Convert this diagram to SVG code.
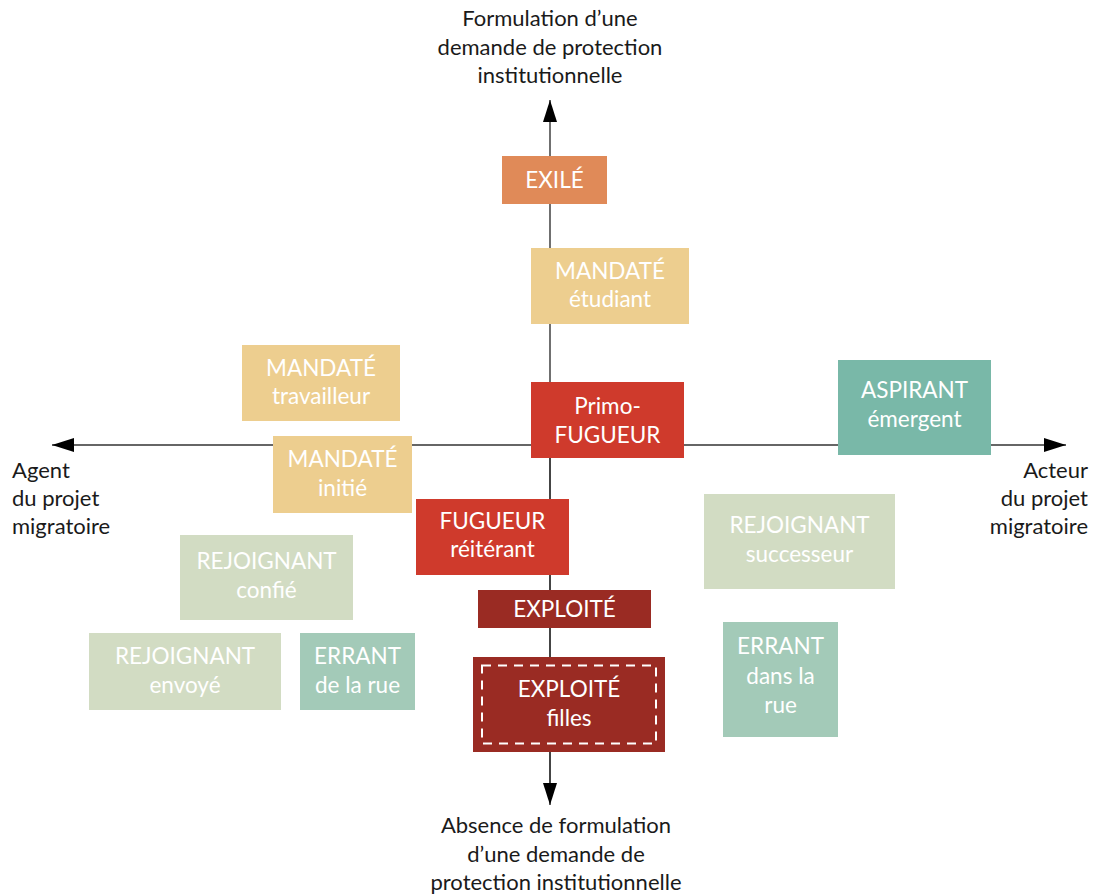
<svg xmlns="http://www.w3.org/2000/svg" width="1096" height="895" viewBox="0 0 1096 895">
<defs>
<marker id="ah" viewBox="0 0 22 14" refX="22" refY="7" markerWidth="22" markerHeight="14" markerUnits="userSpaceOnUse" orient="auto">
<path d="M0,0 L22,7 L0,14 z" fill="#000"/>
</marker>
<style>
.t{font-family:Lato,"Open Sans","DejaVu Sans",sans-serif;font-size:22.5px;fill:#fff;text-anchor:middle}
.a{font-family:Lato,"Open Sans","DejaVu Sans",sans-serif;font-size:22px;fill:#1a1a1a}
.ex{fill:#E08A58}
.md{fill:#EDCE8F}
.fg{fill:#CF3A2C}
.as{fill:#79B8A8}
.rj{fill:#D2DCC3}
.er{fill:#A3CAB8}
.xp{fill:#9A2B23}
.ax{stroke:#333;stroke-width:1.4;fill:none}
</style>
</defs>
<rect width="1096" height="895" fill="#fff"/>
<g id="connectors">
<line class="ax" x1="550" y1="783" x2="550" y2="100" marker-end="url(#ah)"/>
<line class="ax" x1="550" y1="445" x2="550" y2="805" marker-end="url(#ah)"/>
<line class="ax" x1="550" y1="445" x2="52" y2="445" marker-end="url(#ah)"/>
<line class="ax" x1="550" y1="445" x2="1066" y2="445" marker-end="url(#ah)"/>
</g>
<g id="labels">
<text class="a" text-anchor="middle"><tspan x="550" y="26">Formulation d’une</tspan><tspan x="550" y="55">demande de protection</tspan><tspan x="550" y="83">institutionnelle</tspan></text>
<text class="a"><tspan x="12" y="478">Agent</tspan><tspan x="12" y="506">du projet</tspan><tspan x="12" y="534">migratoire</tspan></text>
<text class="a" text-anchor="end"><tspan x="1088" y="478">Acteur</tspan><tspan x="1088" y="506">du projet</tspan><tspan x="1088" y="534">migratoire</tspan></text>
<text class="a" text-anchor="middle"><tspan x="556" y="833">Absence de formulation</tspan><tspan x="556" y="862">d’une demande de</tspan><tspan x="556" y="890">protection institutionnelle</tspan></text>
</g>
<g id="exile"><rect class="ex" x="502" y="156" width="105" height="48"/><text class="t" x="554.5" y="188">EXILÉ</text></g>
<g id="mandate-etudiant"><rect class="md" x="531" y="248" width="158" height="76"/><text class="t"><tspan x="610" y="279">MANDATÉ</tspan><tspan x="610" y="307">étudiant</tspan></text></g>
<g id="mandate-travailleur"><rect class="md" x="242" y="345" width="158" height="76"/><text class="t"><tspan x="321" y="376">MANDATÉ</tspan><tspan x="321" y="404">travailleur</tspan></text></g>
<g id="mandate-initie"><rect class="md" x="273" y="436" width="139" height="77"/><text class="t"><tspan x="342.5" y="467">MANDATÉ</tspan><tspan x="342.5" y="496">initié</tspan></text></g>
<g id="primo-fugueur"><rect class="fg" x="531" y="382" width="153" height="76"/><text class="t"><tspan x="607.5" y="414">Primo-</tspan><tspan x="607.5" y="443">FUGUEUR</tspan></text></g>
<g id="aspirant"><rect class="as" x="838" y="360" width="153" height="95"/><text class="t"><tspan x="914.5" y="398">ASPIRANT</tspan><tspan x="914.5" y="427">émergent</tspan></text></g>
<g id="fugueur-reiterant"><rect class="fg" x="416" y="499" width="153" height="76"/><text class="t"><tspan x="492.5" y="529">FUGUEUR</tspan><tspan x="492.5" y="557">réitérant</tspan></text></g>
<g id="rejoignant-successeur"><rect class="rj" x="704" y="494" width="191" height="95"/><text class="t"><tspan x="799.5" y="533">REJOIGNANT</tspan><tspan x="799.5" y="562">successeur</tspan></text></g>
<g id="rejoignant-confie"><rect class="rj" x="180" y="535" width="173" height="85"/><text class="t"><tspan x="266.5" y="569">REJOIGNANT</tspan><tspan x="266.5" y="598">confié</tspan></text></g>
<g id="exploite"><rect class="xp" x="478" y="590" width="173" height="38"/><text class="t" x="564.5" y="617">EXPLOITÉ</text></g>
<g id="rejoignant-envoye"><rect class="rj" x="89" y="633" width="192" height="77"/><text class="t"><tspan x="185" y="664">REJOIGNANT</tspan><tspan x="185" y="693">envoyé</tspan></text></g>
<g id="errant-rue"><rect class="er" x="300" y="633" width="115" height="77"/><text class="t"><tspan x="357.5" y="664">ERRANT</tspan><tspan x="357.5" y="693">de la rue</tspan></text></g>
<g id="exploite-filles"><rect class="xp" x="473" y="657" width="192" height="95"/><rect x="482" y="665.5" width="174" height="78" fill="none" stroke="#fff" stroke-width="2" stroke-dasharray="9,7"/><text class="t"><tspan x="569" y="697">EXPLOITÉ</tspan><tspan x="569" y="726">filles</tspan></text></g>
<g id="errant-dans-la-rue"><rect class="er" x="723" y="622" width="115" height="115"/><text class="t"><tspan x="780.5" y="654">ERRANT</tspan><tspan x="780.5" y="684">dans la</tspan><tspan x="780.5" y="713">rue</tspan></text></g>
</svg>
